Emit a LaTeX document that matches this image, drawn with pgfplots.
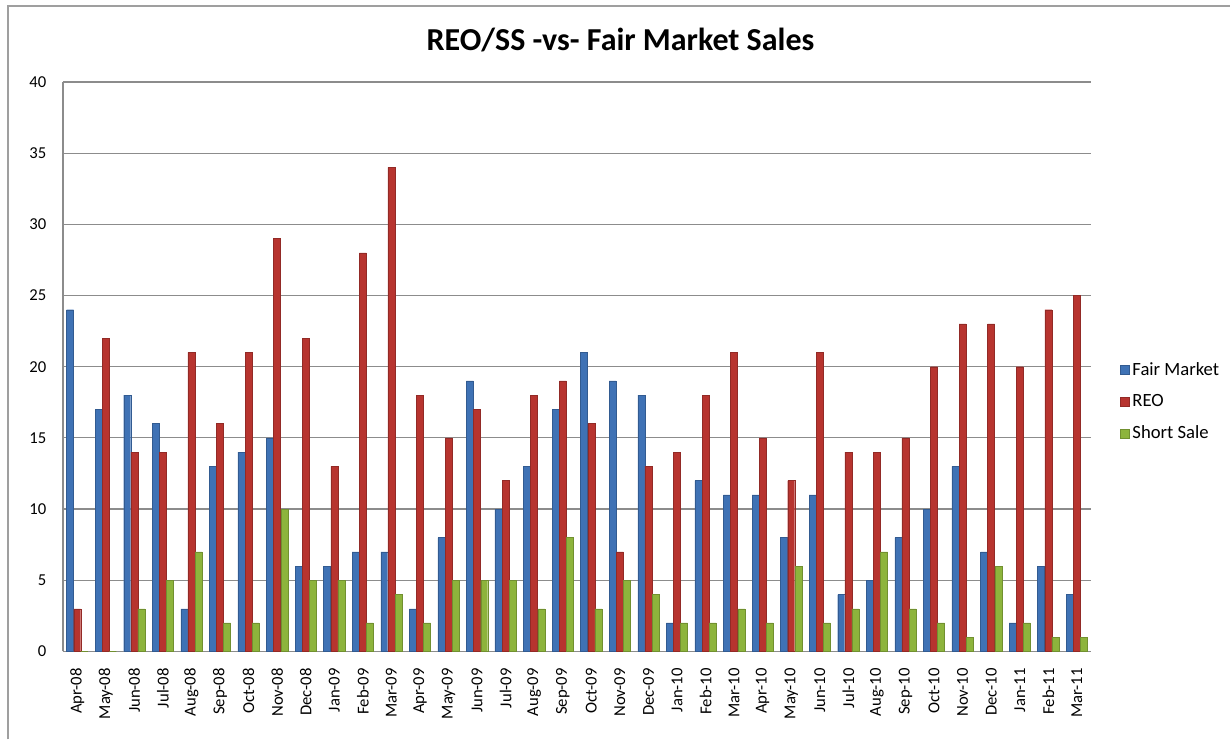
\documentclass[border=0pt]{standalone}
\usepackage{pgfplots}
\pgfplotsset{compat=1.18}
\usepackage{pgfplotstable}
\usepackage{fontspec}
\setmainfont{Carlito}

\definecolor{fmblue}{HTML}{3F72B5}
\definecolor{reored}{HTML}{B7342F}
\definecolor{ssgreen}{HTML}{8DB43C}
\definecolor{gridgray}{HTML}{8C8C8C}

% month, fair market, REO, short sale
\pgfplotstableread{
x FM REO SS
0 24 3 0
1 17 22 0
2 18 14 3
3 16 14 5
4 3 21 7
5 13 16 2
6 14 21 2
7 15 29 10
8 6 22 5
9 6 13 5
10 7 28 2
11 7 34 4
12 3 18 2
13 8 15 5
14 19 17 5
15 10 12 5
16 13 18 3
17 17 19 8
18 21 16 3
19 19 7 5
20 18 13 4
21 2 14 2
22 12 18 2
23 11 21 3
24 11 15 2
25 8 12 6
26 11 21 2
27 4 14 3
28 5 14 7
29 8 15 3
30 10 20 2
31 13 23 1
32 7 23 6
33 2 20 2
34 6 24 1
35 4 25 1
}\salesdata

\begin{document}
\begin{tikzpicture}
\begin{axis}[
  scale only axis,
  width=771.75pt, height=427.5pt,
  xmin=-0.5, xmax=35.5,
  ymin=0, ymax=40,
  ytick={0,5,...,40},
  xtick={0,...,35},
  xticklabels={Apr-08,May-08,Jun-08,Jul-08,Aug-08,Sep-08,Oct-08,Nov-08,Dec-08,
    Jan-09,Feb-09,Mar-09,Apr-09,May-09,Jun-09,Jul-09,Aug-09,Sep-09,Oct-09,Nov-09,Dec-09,
    Jan-10,Feb-10,Mar-10,Apr-10,May-10,Jun-10,Jul-10,Aug-10,Sep-10,Oct-10,Nov-10,Dec-10,
    Jan-11,Feb-11,Mar-11},
  xticklabel style={rotate=90, anchor=east, xshift=-9pt, font=\fontsize{12.5}{14}\selectfont},
  yticklabel style={font=\fontsize{12.5}{14}\selectfont, xshift=-9pt},
  /pgf/number format/assume math mode=true,
  major tick length=0pt,
  ymajorgrids,
  grid style={gridgray, line width=0.9pt},
  axis x line*=bottom, axis y line*=left,
  axis line style={gridgray, line width=0.9pt},
  clip=false,
  bar width=0.245,
  legend style={at={(rel axis cs:1.024,0.4386)}, anchor=west, draw=none, fill=none,
    font=\fontsize{14}{16}\selectfont, row sep=9pt,
    legend cell align=left},
  legend image code/.code={\fill[#1] (0pt,-3.5pt) rectangle (7pt,3.5pt);},
]
\addplot[ybar, bar shift=-0.25, fill=fmblue, draw=fmblue!80!black, line width=0.3pt] table[x=x, y=FM] {\salesdata};
\addlegendentry{Fair Market}
\addplot[ybar, bar shift=0, fill=reored, draw=reored!80!black, line width=0.3pt] table[x=x, y=REO] {\salesdata};
\addlegendentry{REO}
\addplot[ybar, bar shift=0.25, fill=ssgreen, draw=ssgreen!80!black, line width=0.3pt] table[x=x, y=SS] {\salesdata};
\addlegendentry{Short Sale}

% chart frame (cut off on right and bottom in the reference)
\draw[gray!75, line width=1.5pt] (rel axis cs:-0.05345,-0.15439) -- (rel axis cs:-0.05345,1.13333) -- (rel axis cs:1.13508,1.13333);
\node[font=\bfseries\fontsize{24}{28}\selectfont] at (rel axis cs:0.5423,1.0737) {REO/SS -vs- Fair Market Sales};
% page extent
\path (rel axis cs:-0.06122,-0.15439) rectangle (rel axis cs:1.13508,1.14386);
\end{axis}
\end{tikzpicture}
\end{document}
